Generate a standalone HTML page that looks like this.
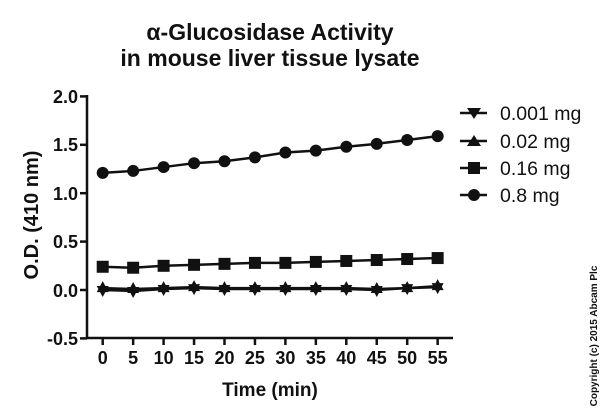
<!DOCTYPE html>
<html><head><meta charset="utf-8"><style>
html,body{margin:0;padding:0;background:#fff;}
svg{display:block;font-family:"Liberation Sans",Arial,sans-serif;}
</style></head><body>
<svg width="600" height="419" viewBox="0 0 600 419" xmlns="http://www.w3.org/2000/svg">
<rect width="600" height="419" fill="#fff"/>
<g font-weight="bold" font-size="23" text-anchor="middle" fill="#111">
<text x="270" y="40">α-Glucosidase Activity</text>
<text x="270" y="66">in mouse liver tissue lysate</text>
</g>
<g stroke="#111" stroke-width="2.5" fill="none">
<line x1="87" y1="95" x2="87" y2="339"/>
<line x1="86" y1="338" x2="453" y2="338"/>
<line x1="80" y1="96.4" x2="87" y2="96.4"/>
<line x1="80" y1="144.8" x2="87" y2="144.8"/>
<line x1="80" y1="193.2" x2="87" y2="193.2"/>
<line x1="80" y1="241.6" x2="87" y2="241.6"/>
<line x1="80" y1="290" x2="87" y2="290"/>
<line x1="80" y1="338.4" x2="87" y2="338.4"/>
</g>
<g stroke="#111" stroke-width="2.5" id="xt"></g>
<g font-weight="bold" font-size="18" text-anchor="end" fill="#111">
<text x="78" y="103">2.0</text>
<text x="78" y="151">1.5</text>
<text x="78" y="200">1.0</text>
<text x="78" y="248">0.5</text>
<text x="78" y="297">0.0</text>
<text x="78" y="345">-0.5</text>
</g>
<g font-weight="bold" font-size="18" text-anchor="middle" fill="#111" id="xl"></g>
<text x="270" y="396" font-weight="bold" font-size="19" text-anchor="middle" fill="#111">Time (min)</text>
<text transform="translate(38,215) rotate(-90)" font-weight="bold" font-size="20" text-anchor="middle" fill="#111">O.D. (410 nm)</text>
<text transform="translate(597,336) rotate(-90)" font-weight="bold" font-size="10" text-anchor="middle" fill="#111">Copyright (c) 2015 Abcam Plc</text>
<g id="data"></g>
<g font-size="19.5" fill="#111">
<line x1="460" y1="113" x2="487" y2="113" stroke="#111" stroke-width="2.5"/>
<polygon points="467,108 481,108 474,119" fill="#111"/>
<text x="500" y="120">0.001 mg</text>
<line x1="460" y1="141" x2="487" y2="141" stroke="#111" stroke-width="2.5"/>
<polygon points="467,146 481,146 474,135" fill="#111"/>
<text x="500" y="148">0.02 mg</text>
<line x1="460" y1="168" x2="487" y2="168" stroke="#111" stroke-width="2.5"/>
<rect x="468" y="162" width="12" height="12" fill="#111"/>
<text x="500" y="175">0.16 mg</text>
<line x1="460" y1="195" x2="487" y2="195" stroke="#111" stroke-width="2.5"/>
<circle cx="474" cy="195" r="6" fill="#111"/>
<text x="500" y="202">0.8 mg</text>
</g>
<script>
(function(){
var ns="http://www.w3.org/2000/svg";
function X(i){return 102.7+i*30.45;}
function Y(v){return 290-v*96.8;}
var xt=document.getElementById('xt'),xl=document.getElementById('xl'),d=document.getElementById('data');
for(var i=0;i<12;i++){
 var l=document.createElementNS(ns,'line');l.setAttribute('x1',X(i));l.setAttribute('x2',X(i));l.setAttribute('y1',338);l.setAttribute('y2',345);xt.appendChild(l);
 var t=document.createElementNS(ns,'text');t.setAttribute('x',X(i));t.setAttribute('y',364);t.textContent=i*5;xl.appendChild(t);
}
var s={
c:[1.21,1.23,1.27,1.31,1.33,1.37,1.42,1.44,1.48,1.51,1.55,1.59],
q:[0.24,0.23,0.25,0.26,0.27,0.28,0.28,0.29,0.30,0.31,0.32,0.33],
u:[0.02,0.01,0.02,0.03,0.02,0.02,0.02,0.02,0.02,0.01,0.02,0.04],
d:[0.0,-0.01,0.01,0.02,0.01,0.01,0.01,0.01,0.01,0.0,0.02,0.03]};
for(var k in s){
 var p='';for(var i=0;i<12;i++)p+=X(i)+','+Y(s[k][i])+' ';
 var pl=document.createElementNS(ns,'polyline');pl.setAttribute('points',p);pl.setAttribute('fill','none');pl.setAttribute('stroke','#111');pl.setAttribute('stroke-width','2.5');d.appendChild(pl);
 for(var i=0;i<12;i++){
  var x=X(i),y=Y(s[k][i]),m;
  if(k=='c'){m=document.createElementNS(ns,'circle');m.setAttribute('cx',x);m.setAttribute('cy',y);m.setAttribute('r',6);}
  else if(k=='q'){m=document.createElementNS(ns,'rect');m.setAttribute('x',x-6);m.setAttribute('y',y-6);m.setAttribute('width',12);m.setAttribute('height',12);}
  else if(k=='u'){m=document.createElementNS(ns,'polygon');m.setAttribute('points',(x-6)+','+(y+4)+' '+(x+6)+','+(y+4)+' '+x+','+(y-7));}
  else {m=document.createElementNS(ns,'polygon');m.setAttribute('points',(x-6)+','+(y-4)+' '+(x+6)+','+(y-4)+' '+x+','+(y+7));}
  m.setAttribute('fill','#111');d.appendChild(m);
 }
}
})();
</script>
</svg>
</body></html>
